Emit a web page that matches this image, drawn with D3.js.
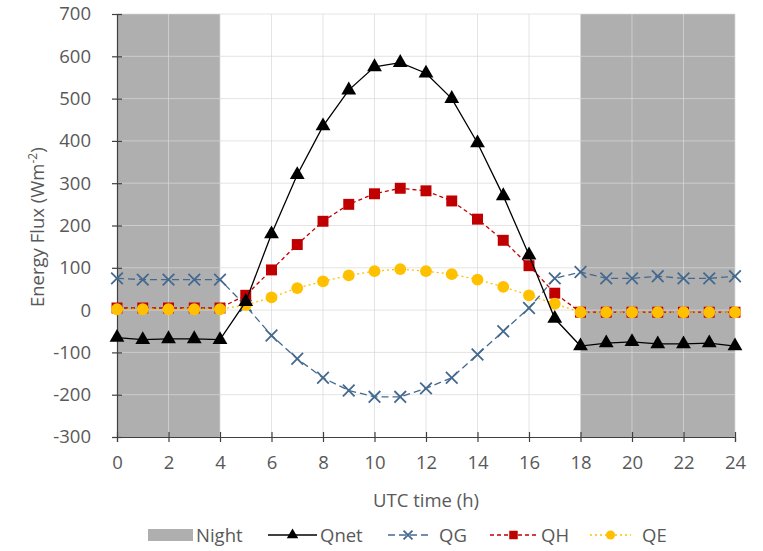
<!DOCTYPE html>
<html><head><meta charset="utf-8">
<script src="https://cdn.jsdelivr.net/npm/d3@7"></script>
<style>body{margin:0;background:#fff}text{font-family:"Open Sans","Liberation Sans",sans-serif}</style>
</head><body><svg id="c" width="763" height="551"></svg>
<script>
const hours = d3.range(0, 25);
const qnet = [-65,-70,-68,-68,-70,20,180,320,435,520,575,585,560,500,395,270,130,-20,-85,-78,-75,-80,-80,-78,-85];
const qg   = [75,72,72,72,72,10,-60,-115,-160,-190,-205,-205,-185,-160,-105,-50,5,75,90,75,75,80,75,75,80];
const qh   = [5,5,5,5,5,35,95,155,210,250,275,288,282,258,215,165,105,40,-5,-5,-5,-5,-5,-5,-5];
const qe   = [2,2,2,2,2,12,30,52,68,82,92,97,92,85,72,55,35,15,-5,-5,-5,-5,-5,-5,-5];
const nights = [[0,4],[18,24]];
const xTicks = d3.range(0, 25, 2);
const yTicks = d3.range(-300, 701, 100);

const svg = d3.select("#c");
const x = d3.scaleLinear().domain([0,24]).range([117,735]);
const y = d3.scaleLinear().domain([-300,700]).range([437,14]);
const txt = "#595959";
const fs = "18.5px";

// night shading
svg.selectAll("rect.night").data(nights).join("rect").attr("class","night")
  .attr("x",d=>x(d[0])).attr("width",d=>x(d[1])-x(d[0]))
  .attr("y",y(700)).attr("height",y(-300)-y(700)).attr("fill","#afafaf");

// grid
svg.selectAll("line.hg").data(yTicks.slice(1)).join("line")
  .attr("x1",x(0)).attr("x2",x(24)).attr("y1",d=>y(d)).attr("y2",d=>y(d))
  .attr("stroke","#d9d9d9").attr("stroke-opacity",0.7).attr("stroke-width",1);
svg.selectAll("line.vg").data(xTicks.slice(1)).join("line")
  .attr("y1",y(-300)).attr("y2",y(700)).attr("x1",d=>x(d)).attr("x2",d=>x(d))
  .attr("stroke","#d9d9d9").attr("stroke-opacity",0.7).attr("stroke-width",1);

// axes
const fmt = d => String(d);
const ya = svg.append("g").attr("transform",`translate(${x(0)},0)`)
  .call(d3.axisLeft(y).tickValues(yTicks).tickFormat(fmt).tickSize(5).tickPadding(21));
ya.selectAll(".tick line").attr("x2",5).attr("x1",-5);
const xa = svg.append("g").attr("transform",`translate(0,${y(-300)})`)
  .call(d3.axisBottom(x).tickValues(xTicks).tickFormat(fmt).tickSize(5).tickPadding(14));
xa.selectAll(".tick line").attr("y1",-5).attr("y2",5);
[ya,xa].forEach(a=>{
  a.select(".domain").attr("stroke","#404040").attr("stroke-width",1.2);
  a.selectAll(".tick line").attr("stroke","#404040").attr("stroke-width",1.2);
  a.selectAll("text").attr("fill",txt).style("font-size",fs);
});
xa.selectAll(".tick text").attr("dy","0.71em");

// titles
svg.append("text").attr("x",(x(0)+x(24))/2).attr("y",507).attr("text-anchor","middle")
  .attr("fill",txt).style("font-size",fs).text("UTC time (h)");
const yt = svg.append("text").attr("transform",`translate(44,${y(196)}) rotate(-90)`)
  .attr("text-anchor","middle").attr("fill",txt).style("font-size",fs);
yt.append("tspan").text("Energy Flux (Wm");
yt.append("tspan").attr("dy","-7").style("font-size","12px").text("-2");
yt.append("tspan").attr("dy","7").text(")");

const sQnet = {name:"Qnet", vals:qnet, color:"#000000", dash:null, marker:"triangle"};
const sQG = {name:"QG", vals:qg, color:"#44698f", dash:"7,4", marker:"x"};
const sQH = {name:"QH", vals:qh, color:"#c00000", dash:"4,3", marker:"square"};
const sQE = {name:"QE", vals:qe, color:"#ffc000", dash:"2,3", marker:"circle"};
const drawOrder = [sQG, sQH, sQE, sQnet];
const line = d3.line().x((d,i)=>x(hours[i])).y(d=>y(d));

function marker(g, type, color, k){
  k = k || 1;
  if(type==="x"){
    g.append("path").attr("d",d3.symbol(d3.symbolX,90*k)()).attr("fill","none")
     .attr("stroke",color).attr("stroke-width",1.8);
  } else if(type==="circle"){
    g.append("path").attr("d",d3.symbol(d3.symbolCircle,110*k)()).attr("fill",color);
  } else if(type==="square"){
    g.append("path").attr("d",d3.symbol(d3.symbolSquare,120*k)()).attr("fill",color);
  } else {
    g.append("path").attr("d",d3.symbol(d3.symbolTriangle,95*k)()).attr("fill",color);
  }
}

drawOrder.forEach(s=>{
  svg.append("path").datum(s.vals).attr("d",line).attr("fill","none")
    .attr("stroke",s.color).attr("stroke-width",1.3).attr("stroke-dasharray",s.dash);
  s.vals.forEach((v,i)=>{
    const g = svg.append("g").attr("transform",`translate(${x(hours[i])},${y(v)})`);
    marker(g, s.marker, s.color);
  });
});

// legend
const ly = 535;
const lg = svg.append("g");
lg.append("rect").attr("x",148).attr("y",ly-6).attr("width",45).attr("height",12).attr("fill","#afafaf");
lg.append("text").attr("x",196).attr("y",ly+7).attr("fill",txt).style("font-size",fs).text("Night");
const legItems = [
  {s:sQnet, x0:268, x1:317, tx:320},
  {s:sQG, x0:388, x1:428, tx:439},
  {s:sQH, x0:490, x1:537, tx:541},
  {s:sQE, x0:590, x1:631, tx:642}
];
legItems.forEach(it=>{
  lg.append("line").attr("x1",it.x0).attr("x2",it.x1).attr("y1",ly).attr("y2",ly)
    .attr("stroke",it.s.color).attr("stroke-width",1.3).attr("stroke-dasharray",it.s.dash);
  const g = lg.append("g").attr("transform",`translate(${(it.x0+it.x1)/2},${ly})`);
  marker(g, it.s.marker, it.s.color, 0.6);
  lg.append("text").attr("x",it.tx).attr("y",ly+7).attr("fill",txt).style("font-size",fs).text(it.s.name);
});
</script></body></html>
